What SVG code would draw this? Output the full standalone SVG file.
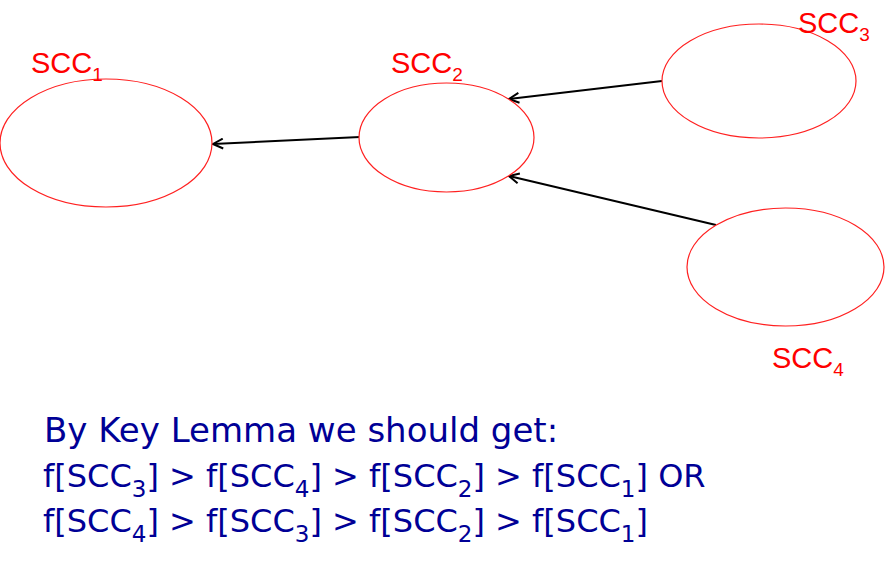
<svg xmlns="http://www.w3.org/2000/svg" width="892" height="565" viewBox="0 0 892 565">
<style>
.node{fill:#fff;stroke:#ff2020;stroke-width:1.2}
.lbl{font-family:"Liberation Sans",Arial,sans-serif;font-size:29px;fill:#ff0000}
.sub{font-size:19px}
.edge{stroke:#000;stroke-width:2;fill:none;marker-end:url(#arr)}
.txt{font-family:"DejaVu Sans",Verdana,sans-serif;font-size:32px;fill:#000096}
.ts{font-size:23px}
</style>
<defs>
<marker id="arr" viewBox="0 0 12 12" refX="11" refY="6" markerWidth="12" markerHeight="12" markerUnits="userSpaceOnUse" orient="auto">
<path d="M1,1 L11,6 L1,11" fill="none" stroke="#000" stroke-width="2"/>
</marker>
</defs>
<rect width="892" height="565" fill="#fff"/>
<g id="connectors">
<line class="edge" x1="360" y1="137" x2="213" y2="144"/>
<line class="edge" x1="662" y1="81" x2="509" y2="99"/>
<line class="edge" x1="716" y1="225" x2="509" y2="176"/>
</g>
<g id="scc1">
<ellipse class="node" cx="106" cy="143" rx="106" ry="64"/>
<text class="lbl" x="31" y="73">SCC<tspan class="sub" dy="8">1</tspan></text>
</g>
<g id="scc2">
<ellipse class="node" cx="446.5" cy="137.5" rx="87.5" ry="54.5"/>
<text class="lbl" x="391" y="73">SCC<tspan class="sub" dy="8">2</tspan></text>
</g>
<g id="scc3">
<ellipse class="node" cx="759" cy="81" rx="97" ry="57"/>
<text class="lbl" x="798" y="33">SCC<tspan class="sub" dy="8">3</tspan></text>
</g>
<g id="scc4">
<ellipse class="node" cx="785.5" cy="267" rx="98.5" ry="59"/>
<text class="lbl" x="772" y="368">SCC<tspan class="sub" dy="8">4</tspan></text>
</g>
<g id="caption">
<text class="txt" x="44" y="442" style="font-size:34px">By Key Lemma we should get:</text>
<text class="txt" x="43" y="487">f[SCC<tspan class="ts" dy="10">3</tspan><tspan dy="-10">] &gt; f[SCC</tspan><tspan class="ts" dy="10">4</tspan><tspan dy="-10">] &gt; f[SCC</tspan><tspan class="ts" dy="10">2</tspan><tspan dy="-10">] &gt; f[SCC</tspan><tspan class="ts" dy="10">1</tspan><tspan dy="-10">] OR</tspan></text>
<text class="txt" x="43" y="532">f[SCC<tspan class="ts" dy="10">4</tspan><tspan dy="-10">] &gt; f[SCC</tspan><tspan class="ts" dy="10">3</tspan><tspan dy="-10">] &gt; f[SCC</tspan><tspan class="ts" dy="10">2</tspan><tspan dy="-10">] &gt; f[SCC</tspan><tspan class="ts" dy="10">1</tspan><tspan dy="-10">]</tspan></text>
</g>
</svg>
